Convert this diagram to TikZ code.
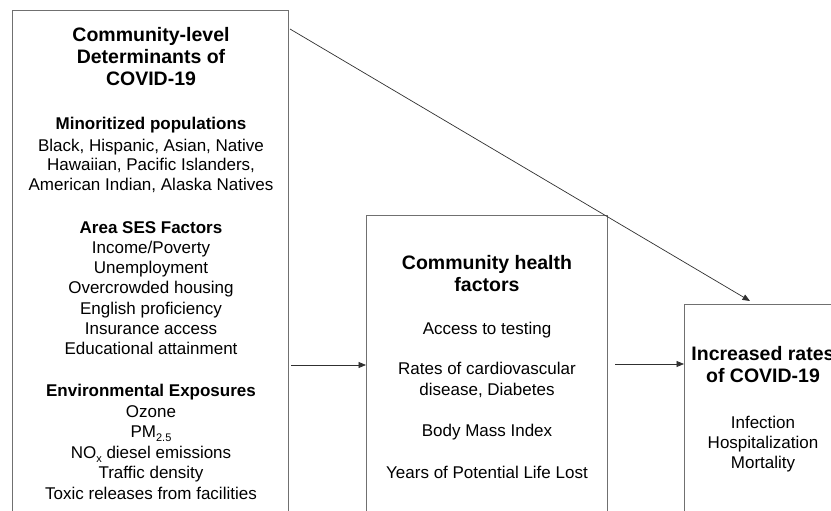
\documentclass[tikz,border=0pt]{standalone}
\usepackage{fontspec}
\setmainfont{Liberation Sans}
\usetikzlibrary{arrows.meta}
\definecolor{boxgray}{HTML}{707070}
\definecolor{arrgray}{HTML}{303030}
\newcommand{\lowsub}[1]{\raisebox{-0.45ex}{\fontsize{11}{11}\selectfont #1}}
\tikzset{
  boxst/.style={draw=boxgray, line width=1.1pt, inner sep=0pt},
  ttl/.style={font=\fontsize{19.5}{22}\selectfont\bfseries, anchor=base, inner sep=0pt},
  hdr/.style={font=\fontsize{17}{20}\selectfont\bfseries, anchor=base, inner sep=0pt},
  txt/.style={font=\fontsize{17}{20}\selectfont, anchor=base, inner sep=0pt},
  arr/.style={-{Triangle[length=7.5pt,width=6pt]}, draw=arrgray, line width=0.8pt}
}
\begin{document}
\begin{tikzpicture}[x=1pt,y=-1pt]
\useasboundingbox (0,0) rectangle (831,511);
\clip (0,0) rectangle (831,511);
\fill[white] (0,0) rectangle (831,511);
% boxes
\node[boxst, minimum width=276pt, minimum height=520pt, anchor=north west] (box1) at (12,10) {};
\node[boxst, minimum width=241pt, minimum height=320pt, anchor=north west] (box2) at (366,215) {};
\node[boxst, minimum width=160pt, minimum height=230pt, anchor=north west] (box3) at (684,304) {};
% box 1 text
\node[ttl] (t1a) at (151,42) {Community-level};
\node[ttl] (t1b) at (151,64) {Determinants of};
\node[ttl] (t1c) at (151,86) {COVID-19};
\node[hdr] (h1) at (151,129) {Minoritized populations};
\node[txt] (m1) at (151,151) {Black, Hispanic, Asian, Native};
\node[txt] (m2) at (151,171) {Hawaiian, Pacific Islanders,};
\node[txt] (m3) at (151,190) {American Indian, Alaska Natives};
\node[hdr] (h2) at (151,233) {Area SES Factors};
\node[txt] (s1) at (151,253) {Income/Poverty};
\node[txt] (s2) at (151,273) {Unemployment};
\node[txt] (s3) at (151,293) {Overcrowded housing};
\node[txt] (s4) at (151,314) {English proficiency};
\node[txt] (s5) at (151,334) {Insurance access};
\node[txt] (s6) at (151,354) {Educational attainment};
\node[hdr] (h3) at (151,396) {Environmental Exposures};
\node[txt] (e1) at (151,417) {Ozone};
\node[txt] (e2) at (151,437) {PM\lowsub{2.5}};
\node[txt] (e3) at (151,458) {NO\lowsub{x} diesel emissions};
\node[txt] (e4) at (151,478) {Traffic density};
\node[txt] (e5) at (151,499) {Toxic releases from facilities};
% box 2 text
\node[ttl] (t2a) at (487,269) {Community health};
\node[ttl] (t2b) at (487,291) {factors};
\node[txt] (c1) at (487,334) {Access to testing};
\node[txt] (c2) at (487,374) {Rates of cardiovascular};
\node[txt] (c3) at (487,395) {disease, Diabetes};
\node[txt] (c4) at (487,436) {Body Mass Index};
\node[txt] (c5) at (487,478) {Years of Potential Life Lost};
% box 3 text
\node[ttl] (t3a) at (763,360) {Increased rates};
\node[ttl] (t3b) at (763,382) {of COVID-19};
\node[txt] (o1) at (763,428) {Infection};
\node[txt] (o2) at (763,448) {Hospitalization};
\node[txt] (o3) at (763,468) {Mortality};
% connectors
\coordinate (r1) at (291,365);
\coordinate (r2) at (615,364);
\coordinate (d0) at (290,29);
\coordinate (d1) at (750,301);
\draw[arr] (r1) -- (r1 -| box2.west);
\draw[arr] (r2) -- (r2 -| box3.west);
\draw[arr, line width=0.7pt] (d0) -- (d1);
\end{tikzpicture}
\end{document}
